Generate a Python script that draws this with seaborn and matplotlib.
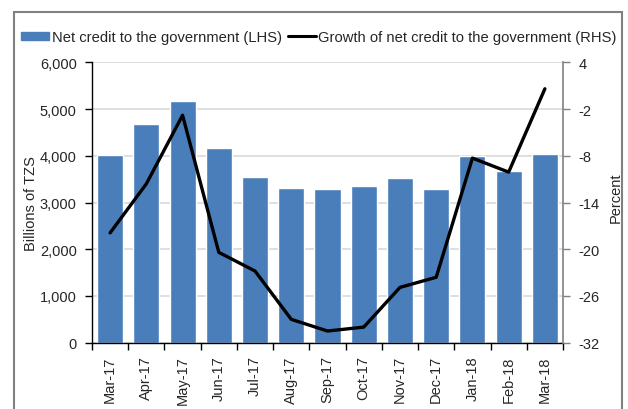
import matplotlib
matplotlib.use("Agg")
import matplotlib.pyplot as plt
import matplotlib.patches as mpatches
from matplotlib.lines import Line2D
from matplotlib.ticker import FuncFormatter
import numpy as np
import pandas as pd
import seaborn as sns

months = ["Mar-17", "Apr-17", "May-17", "Jun-17", "Jul-17", "Aug-17", "Sep-17",
          "Oct-17", "Nov-17", "Dec-17", "Jan-18", "Feb-18", "Mar-18"]
net_credit = [4020, 4680, 5170, 4170, 3550, 3310, 3290, 3355, 3525, 3290, 3995, 3675, 4040]
growth = [-17.9, -11.6, -2.8, -20.4, -22.8, -29.0, -30.5, -30.0, -24.9, -23.6, -8.3, -10.1, 0.6]

bar_label = "Net credit to the government (LHS)"
line_label = "Growth of net credit to the government (RHS)"

sns.set_theme(style="white")
plt.rcParams["font.family"] = ["Liberation Sans", "DejaVu Sans"]
plt.rcParams["axes.unicode_minus"] = False

BLUE = "#4a7ebb"
FS = 10.5

fig = plt.figure(figsize=(6.28, 4.10), dpi=100)
ax = fig.add_axes([92/628, 1-343.7/410, (563-92)/628, (343.7-63.3)/410])

df = pd.DataFrame({"month": months, "credit": net_credit, "growth": growth})
sns.barplot(data=df, x="month", y="credit", color=BLUE, saturation=1, width=0.72, ax=ax)

ax2 = ax.twinx()
sns.lineplot(x=np.arange(len(months)), y=df["growth"], ax=ax2, color="black", lw=2.4)

ax.set_xlim(-0.5, len(months) - 0.5)
ax.set_ylim(0, 6000)
ax.set_yticks(range(0, 6001, 1000))
ax.yaxis.set_major_formatter(FuncFormatter(lambda v, p: f"{int(v):,}"))
ax2.set_ylim(-32, 4)
ax2.set_yticks(range(-32, 5, 6))

ax.yaxis.grid(True, color="#d9d9d9", lw=1.2)
ax.xaxis.grid(False)
ax.set_axisbelow(True)

for s in ["top", "right"]:
    ax.spines[s].set_visible(False)
for s in ["top", "left", "bottom"]:
    ax2.spines[s].set_visible(False)
ax.spines["left"].set_color("black")
ax.spines["bottom"].set_color("black")
ax.spines["left"].set_linewidth(1)
ax.spines["bottom"].set_linewidth(1)
ax2.spines["right"].set_color("#808080")
ax2.spines["right"].set_linewidth(1.2)

ax.set_xticks(np.arange(len(months)))
ax.set_xticklabels(months, rotation=90, fontsize=FS)
ax.set_xticks(np.arange(-0.5, len(months), 1), minor=True)
ax.tick_params(axis="x", which="major", length=0, pad=9)
ax.tick_params(axis="x", which="minor", length=5, width=1, color="black", direction="out", bottom=True)
ax.tick_params(axis="y", length=5, width=1, color="black", direction="out", left=True, labelsize=FS, pad=6)
ax2.tick_params(axis="y", length=5, width=1, color="#808080", direction="out", right=True, labelsize=FS, pad=6)

ax.set_xlabel("")
ax.set_ylabel("Billions of TZS", fontsize=FS)
ax.yaxis.set_label_coords(-0.115, 0.5)
ax2.set_ylabel("Percent", fontsize=FS)
ax2.yaxis.set_label_coords(1.097, 0.52)

handles = [mpatches.Patch(color=BLUE, label=bar_label),
           Line2D([0], [0], color="black", lw=2.2, label=line_label)]
fig.legend(handles=handles, loc="center", bbox_to_anchor=(319/628, 1-38/410), ncol=2,
           frameon=False, fontsize=10.6, handlelength=1.9, handleheight=0.5,
           handletextpad=0.15, columnspacing=0.45, borderpad=0)

border = mpatches.Rectangle((14/628, -0.2), (622-14)/628, 1.2-13/410, transform=fig.transFigure,
                            fill=False, edgecolor="#808080", lw=1.5, clip_on=False)
fig.patches.append(border)

fig.savefig("out.png", dpi=100)
